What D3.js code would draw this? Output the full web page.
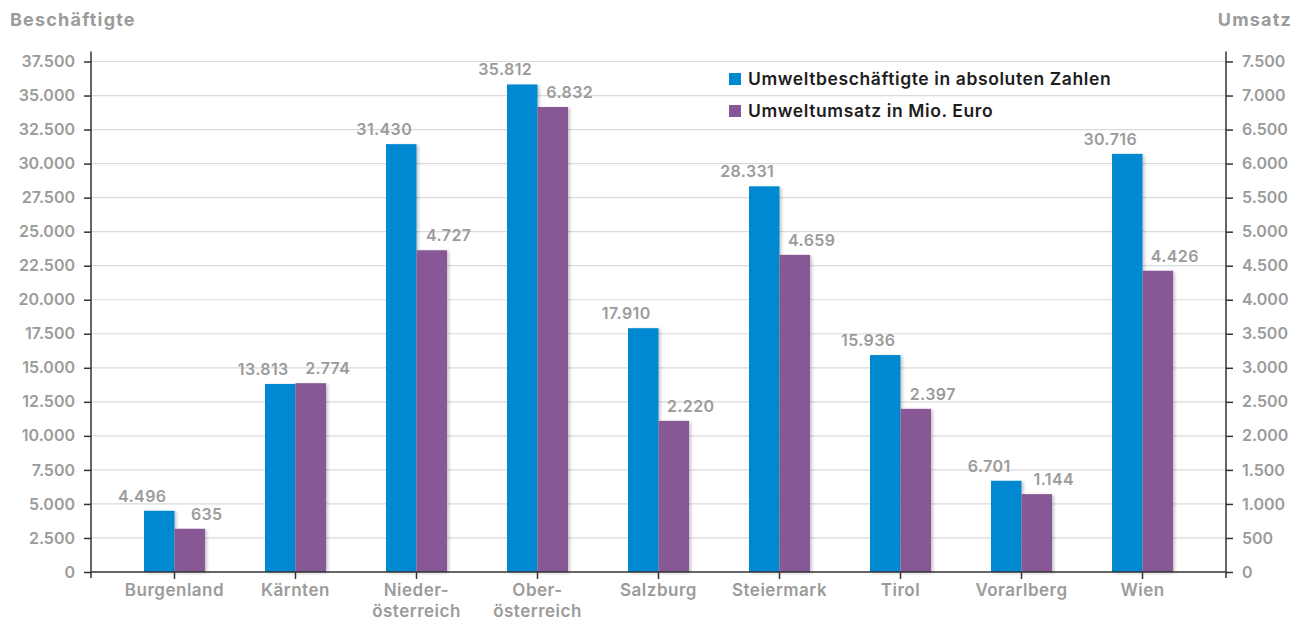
<!DOCTYPE html>
<html>
<head>
<meta charset="utf-8">
<script src="https://cdn.jsdelivr.net/npm/d3@7"></script>
<style>
    body { margin: 0; background: #fff; }
    svg text { font-family: Inter, 'Open Sans', sans-serif; }
</style>
</head>
<body>
<svg id="chart" width="1302" height="621"></svg>
<script>
// data
const regions = ['Burgenland', 'Kärnten', 'Nieder-\nösterreich', 'Ober-\nösterreich', 'Salzburg', 'Steiermark', 'Tirol', 'Vorarlberg', 'Wien'];
const employees = [4496, 13813, 31430, 35812, 17910, 28331, 15936, 6701, 30716];
const revenue = [635, 2774, 4727, 6832, 2220, 4659, 2397, 1144, 4426];
const leftTicks = d3.range(0, 37501, 2500);
const rightTicks = d3.range(0, 7501, 500);
const seriesNames = ['Umweltbeschäftigte in absoluten Zahlen', 'Umweltumsatz in Mio. Euro'];
const seriesColors = ['#0089d0', '#885896'];

const fmt = (v) => d3.format(',')(v).replace(/,/g, '.');

const svg = d3.select('#chart');
const plotLeft = 91, plotRight = 1226, plotTop = 61.5, plotBottom = 572;

const x = d3.scaleBand().domain(regions).range([plotLeft, plotRight]).paddingOuter(0.19).paddingInner(0);
const yL = d3.scaleLinear().domain([0, 37500]).range([plotBottom, plotTop]);
const yR = d3.scaleLinear().domain([0, 7500]).range([plotBottom, plotTop]);
const barW = 30.5;
const mid = (d) => x(d) + x.bandwidth() / 2;

// drop shadow for the bars
const defs = svg.append('defs');
const filter = defs.append('filter').attr('id', 'shadow')
    .attr('x', '-20%').attr('y', '-5%').attr('width', '150%').attr('height', '115%');
filter.append('feDropShadow')
    .attr('dx', 2).attr('dy', 1).attr('stdDeviation', 1.5)
    .attr('flood-color', '#000').attr('flood-opacity', 0.22);

// grid lines
svg.append('g')
    .selectAll('line')
    .data(leftTicks.filter((d) => d > 0))
    .enter()
    .append('line')
    .attr('x1', plotLeft).attr('x2', plotRight)
    .attr('y1', (d) => yL(d)).attr('y2', (d) => yL(d))
    .attr('stroke', '#dadada').attr('stroke-width', 1.2);

// axis titles
svg.append('text').attr('x', 10).attr('y', 26)
    .attr('fill', '#9b9b9b').attr('font-size', 18).attr('font-weight', 700)
    .attr('letter-spacing', 1.2)
    .text('Beschäftigte');
svg.append('text').attr('x', 1292).attr('y', 26).attr('text-anchor', 'end')
    .attr('fill', '#9b9b9b').attr('font-size', 18).attr('font-weight', 700)
    .attr('letter-spacing', 1.2)
    .text('Umsatz');

// left and right axes
const gL = svg.append('g').attr('transform', `translate(${plotLeft},0)`)
    .call(d3.axisLeft(yL).tickValues(leftTicks).tickFormat(fmt).tickSize(7).tickPadding(9));
const gR = svg.append('g').attr('transform', `translate(${plotRight},0)`)
    .call(d3.axisRight(yR).tickValues(rightTicks).tickFormat(fmt).tickSize(7).tickPadding(9));

[gL, gR].forEach((g) => {
    g.select('.domain').attr('d', `M0,${plotTop - 10}V${plotBottom + 6}`)
        .attr('stroke', '#333').attr('stroke-width', 1.5);
    g.selectAll('.tick line').attr('stroke', '#333').attr('stroke-width', 1.5);
    g.selectAll('.tick text')
        .attr('fill', '#9b9b9b').attr('font-size', 16).attr('font-weight', 600)
        .style('font-family', "Inter, 'Open Sans', sans-serif");
});

// bars
const groups = svg.append('g')
    .selectAll('g')
    .data(regions)
    .enter()
    .append('g');

groups.append('rect')
    .attr('x', (d) => mid(d) - barW)
    .attr('width', barW)
    .attr('y', (d, i) => yL(employees[i]))
    .attr('height', (d, i) => plotBottom - yL(employees[i]))
    .attr('fill', seriesColors[0])
    .attr('filter', 'url(#shadow)');

groups.append('rect')
    .attr('x', (d) => mid(d))
    .attr('width', barW)
    .attr('y', (d, i) => yR(revenue[i]))
    .attr('height', (d, i) => plotBottom - yR(revenue[i]))
    .attr('fill', seriesColors[1])
    .attr('filter', 'url(#shadow)');

// value labels
groups.append('text')
    .attr('x', (d) => mid(d) - barW / 2 - 17)
    .attr('y', (d, i) => yL(employees[i]) - 9)
    .attr('text-anchor', 'middle')
    .attr('fill', '#9b9b9b').attr('font-size', 16).attr('font-weight', 600)
    .attr('letter-spacing', 0.4)
    .text((d, i) => fmt(employees[i]));

groups.append('text')
    .attr('x', (d) => mid(d) + barW / 2 + 17)
    .attr('y', (d, i) => yR(revenue[i]) - 9)
    .attr('text-anchor', 'middle')
    .attr('fill', '#9b9b9b').attr('font-size', 16).attr('font-weight', 600)
    .attr('letter-spacing', 0.4)
    .text((d, i) => fmt(revenue[i]));

// bottom axis
const gB = svg.append('g').attr('transform', `translate(0,${plotBottom})`);
gB.append('line').attr('x1', plotLeft).attr('x2', plotRight)
    .attr('stroke', '#333').attr('stroke-width', 1.5);
gB.selectAll('line.tick')
    .data(regions)
    .enter()
    .append('line')
    .attr('class', 'tick')
    .attr('x1', mid).attr('x2', mid)
    .attr('y1', 0).attr('y2', 7)
    .attr('stroke', '#333').attr('stroke-width', 1.5);

gB.selectAll('text')
    .data(regions)
    .enter()
    .append('text')
    .attr('x', mid)
    .attr('y', 24)
    .attr('text-anchor', 'middle')
    .attr('fill', '#9b9b9b').attr('font-size', 17).attr('font-weight', 600)
    .attr('letter-spacing', 0.5)
    .each(function (d) {
        const t = d3.select(this);
        d.split('\n').forEach((line, k) => {
            t.append('tspan')
                .attr('x', mid(d))
                .attr('dy', k === 0 ? 0 : 21)
                .text(line);
        });
    });

// legend
const legend = svg.append('g')
    .selectAll('g')
    .data(seriesNames)
    .enter()
    .append('g')
    .attr('transform', (d, i) => `translate(729,${79 + i * 32})`);
legend.append('rect')
    .attr('x', 0).attr('y', -6).attr('width', 12).attr('height', 12)
    .attr('fill', (d, i) => seriesColors[i]);
legend.append('text')
    .attr('x', 19).attr('y', 0).attr('dy', '0.35em')
    .attr('fill', '#1d1d1d').attr('font-size', 17.5).attr('font-weight', 600)
    .attr('letter-spacing', 0.6)
    .text((d) => d);
</script>
</body>
</html>
